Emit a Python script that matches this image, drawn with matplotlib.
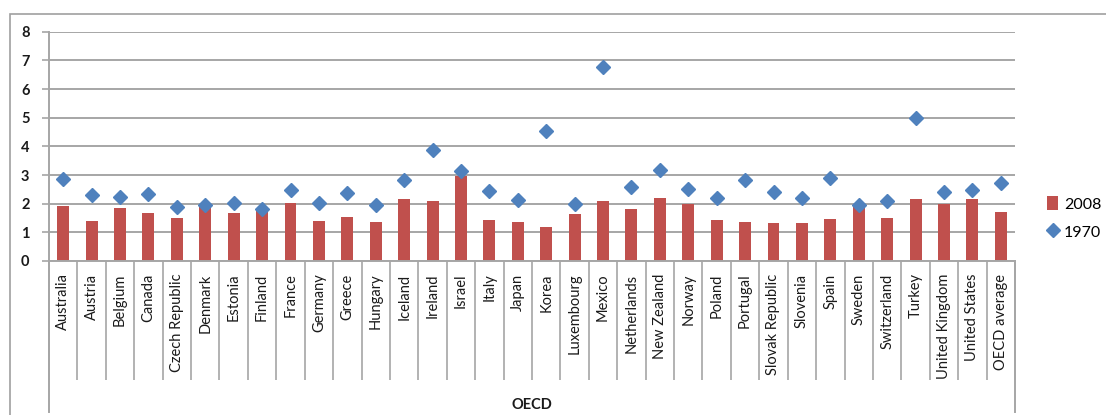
import numpy as np
import matplotlib.pyplot as plt
from matplotlib.patches import Rectangle
from matplotlib.lines import Line2D

countries = [
    "Australia", "Austria", "Belgium", "Canada", "Czech Republic", "Denmark",
    "Estonia", "Finland", "France", "Germany", "Greece", "Hungary", "Iceland",
    "Ireland", "Israel", "Italy", "Japan", "Korea", "Luxembourg", "Mexico",
    "Netherlands", "New Zealand", "Norway", "Poland", "Portugal",
    "Slovak Republic", "Slovenia", "Spain", "Sweden", "Switzerland", "Turkey",
    "United Kingdom", "United States", "OECD average",
]
values_2008 = [
    1.93, 1.41, 1.84, 1.66, 1.49, 1.89, 1.66, 1.84, 2.01, 1.41, 1.55, 1.37,
    2.15, 2.09, 2.98, 1.42, 1.37, 1.20, 1.63, 2.09, 1.80, 2.19, 1.98, 1.42,
    1.37, 1.34, 1.34, 1.47, 1.90, 1.50, 2.15, 1.98, 2.15, 1.72,
]
values_1970 = [
    2.85, 2.29, 2.24, 2.33, 1.90, 1.95, 2.03, 1.81, 2.48, 2.03, 2.38, 1.97,
    2.82, 3.87, 3.14, 2.43, 2.13, 4.54, 1.98, 6.77, 2.57, 3.16, 2.50, 2.20,
    2.83, 2.40, 2.21, 2.91, 1.94, 2.10, 5.00, 2.42, 2.49, 2.71,
]
group_label = "OECD"

plt.rcParams['font.family'] = ['Lato', 'DejaVu Sans']

W, H = 1106, 415
fig = plt.figure(figsize=(W / 100, H / 100), dpi=100)

# plot area in pixels
left, right, top, bottom = 49, 1015, 31.7, 261
ax = fig.add_axes([left / W, (H - bottom) / H, (right - left) / W, (bottom - top) / H])

grid_c = '#a6a6a6'
bar_c = '#c0504d'
dia_c = '#4f81bd'
text_c = '#1a1a1a'

x = np.arange(len(countries))
bars = ax.bar(x, values_2008, width=0.42, color=bar_c, zorder=2, label="2008")
dots, = ax.plot(x, values_1970, linestyle='none', marker='D', markersize=7,
                color=dia_c, zorder=3, label="1970")

ax.set_xlim(-0.5, len(countries) - 0.5)
ax.set_ylim(0, 8)
ax.set_yticks(range(0, 9))
ax.yaxis.grid(True, color=grid_c, linewidth=1.4, zorder=0)
ax.set_axisbelow(True)

for s in ['top', 'right']:
    ax.spines[s].set_visible(False)
ax.spines['left'].set_color(grid_c)
ax.spines['left'].set_linewidth(1.4)
ax.spines['bottom'].set_color(grid_c)
ax.spines['bottom'].set_linewidth(1.4)

ax.tick_params(axis='y', length=5, color=grid_c, width=1.2, labelsize=10.5,
               labelcolor=text_c, pad=9)
for t in ax.get_yticklabels():
    t.set_fontweight('bold')
ax.set_xticks(x)
ax.set_xticklabels(countries, rotation=90, fontsize=10.5, color=text_c)
ax.tick_params(axis='x', which='major', length=0, pad=9)
ax.set_xticks(np.arange(-0.5, len(countries)), minor=True)
ax.tick_params(axis='x', which='minor', length=119 * 0.72, color=grid_c, width=1.2)

# group axis below the category labels
fig.add_artist(Line2D([left / W, left / W], [(H - 412) / H, (H - bottom) / H],
                      transform=fig.transFigure, color=grid_c, linewidth=1.4))
fig.add_artist(Line2D([right / W, right / W], [(H - 412) / H, (H - bottom) / H],
                      transform=fig.transFigure, color=grid_c, linewidth=1.4))
fig.text((left + right) / 2 / W, (H - 405) / H, group_label, ha='center',
         va='center', fontsize=10.5, fontweight='bold', color=text_c)

# outer chart frame
fig.add_artist(Rectangle((10 / W, -0.05), 1.2, (H - 14) / H + 0.05,
                         transform=fig.transFigure, fill=False,
                         edgecolor='#a0a0a0', linewidth=1.2))

fig.legend([bars, dots], ["2008", "1970"], loc='center left',
           bbox_to_anchor=(1036 / W, (H - 218) / H),
           frameon=False, fontsize=11.5, handlelength=0.7, handleheight=0.9,
           handletextpad=0.35, labelspacing=0.8, borderpad=0.2)

fig.savefig("out.png", dpi=100)
